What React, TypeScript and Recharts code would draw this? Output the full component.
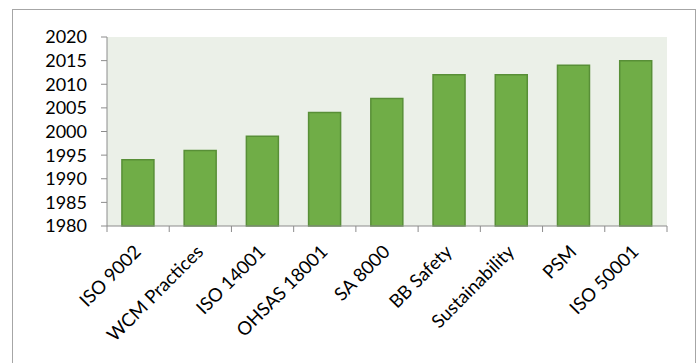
import React from "react";
import { BarChart, Bar, XAxis, YAxis, CartesianGrid } from "recharts";

const categories = [
  "ISO 9002",
  "WCM Practices",
  "ISO 14001",
  "OHSAS 18001",
  "SA 8000",
  "BB Safety",
  "Sustainability",
  "PSM",
  "ISO 50001",
];
const years = [1994, 1996, 1999, 2004, 2007, 2012, 2012, 2014, 2015];
const yTicks = [1980, 1985, 1990, 1995, 2000, 2005, 2010, 2015, 2020];

const data = categories.map((name, i) => ({ name, year: years[i] }));

const FONT = "Lato, 'Open Sans', sans-serif";
const AXIS = "#8c8c8c";

const XTick = (props: any) => {
  const { x, y, payload, index } = props;
  const off = payload.offset || 0;
  const last = index === categories.length - 1;
  return (
    <g>
      <line x1={x - off} y1={y - 8} x2={x - off} y2={y - 2} stroke={AXIS} strokeWidth={1} />
      {last && (
        <line x1={x + off} y1={y - 8} x2={x + off} y2={y - 2} stroke={AXIS} strokeWidth={1} />
      )}
      <text
        x={x + 4}
        y={y + 19}
        textAnchor="end"
        transform={`rotate(-45 ${x + 4} ${y + 19})`}
        fontFamily={FONT}
        fontSize={18.5}
        fill="#000"
      >
        {payload.value}
      </text>
    </g>
  );
};

export default function App() {
  return (
    <div style={{ position: "absolute", left: 0, top: 0, width: 699, height: 363, background: "#fff" }}>
      <div
        style={{
          position: "absolute",
          left: 12,
          top: 9,
          width: 684,
          height: 370,
          border: "1.5px solid #a6a6a6",
          boxSizing: "border-box",
        }}
      />
      <div style={{ position: "absolute", left: 0, top: 0 }}>
        <BarChart
          width={699}
          height={363}
          data={data}
          margin={{ top: 37, right: 32, left: 0, bottom: 0 }}
          barCategoryGap="24%"
        >
          <CartesianGrid fill="#ebf0e8" stroke="none" horizontal={false} vertical={false} />
          <XAxis
            dataKey="name"
            height={137}
            interval={0}
            stroke={AXIS}
            tickLine={false}
            tick={<XTick />}
          />
          <YAxis
            width={107}
            domain={[1980, 2020]}
            ticks={yTicks}
            interval={0}
            stroke={AXIS}
            tickSize={6}
            tickMargin={14}
            tick={{ fill: "#000", fontSize: 18, fontFamily: FONT }}
          />
          <Bar
            dataKey="year"
            fill="#70ad47"
            stroke="#588f37"
            strokeWidth={1.5}
            isAnimationActive={false}
          />
        </BarChart>
      </div>
    </div>
  );
}
